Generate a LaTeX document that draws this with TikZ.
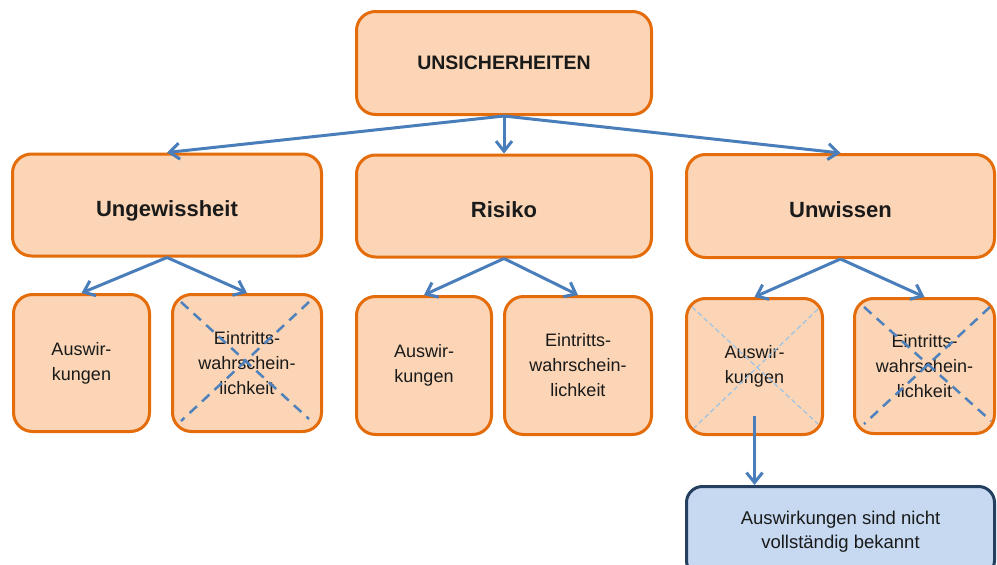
\documentclass[tikz,border=0pt]{standalone}
\usepackage{fontspec}
\setmainfont{Liberation Sans}
\usetikzlibrary{arrows.meta,calc}
\definecolor{boxfill}{HTML}{FBD5B5}
\definecolor{boxline}{HTML}{E46C0A}
\definecolor{arrowblue}{HTML}{4A7EBB}
\definecolor{crossblue}{HTML}{4F81BD}
\definecolor{lightcross}{HTML}{9DC3E6}
\definecolor{notefill}{HTML}{C6D9F1}
\definecolor{noteline}{HTML}{243F60}
\definecolor{txt}{HTML}{1A1A1A}
\tikzset{
  orangebox/.style={draw=boxline, fill=boxfill, line width=3pt, rounded corners=19pt,
    align=center, inner sep=0pt, text=txt},
  bigbox/.style={orangebox, font=\bfseries\fontsize{22}{26}\selectfont,
    text height=22pt, text depth=0pt},
  smallbox/.style={orangebox, font=\fontsize{18}{25}\selectfont},
  notebox/.style={draw=noteline, fill=notefill, line width=3pt, rounded corners=16pt,
    align=center, inner sep=0pt, text=txt, font=\fontsize{18.5}{23.5}\selectfont},
  link/.style={draw=arrowblue, line width=3pt,
    -{Straight Barb[length=10pt,width=16pt]}},
  strike/.style={draw=crossblue, line width=2.5pt, dash pattern=on 10pt off 7pt},
  faintstrike/.style={draw=lightcross, line width=1.2pt, dash pattern=on 5pt off 3pt}
}
\begin{document}
\begin{tikzpicture}[x=1pt,y=-1pt]
\useasboundingbox (0,0) rectangle (997,565);
\clip (0,0) rectangle (997,565);

% top level
\node[orangebox, font=\bfseries\fontsize{19.5}{24}\selectfont,
      minimum width=295pt, minimum height=103pt] (top) at (504,63) {UNSICHERHEITEN};

% second level
\node[bigbox, minimum width=309pt, minimum height=102pt] (ung) at (167,205) {Ungewissheit};
\node[bigbox, minimum width=295pt, minimum height=102pt] (ris) at (504,206) {Risiko};
\node[bigbox, minimum width=308pt, minimum height=103pt] (unw) at (840.5,206) {Unwissen};

% third level
\node[smallbox, minimum width=136pt, minimum height=137pt] (unga) at (81.5,363) {Auswir-\\kungen};
\node[smallbox, minimum width=149pt, minimum height=137pt] (unge) at (247,363) {Eintritts-\\wahrschein-\\lichkeit};
\node[smallbox, minimum width=135pt, minimum height=138pt] (risa) at (424,365.5) {Auswir-\\kungen};
\node[smallbox, minimum width=147pt, minimum height=138pt] (rise) at (578,365.5) {Eintritts-\\wahrschein-\\lichkeit};
\node[smallbox, minimum width=136pt, minimum height=136pt] (unwa) at (754.5,366.5) {Auswir-\\kungen};
\node[smallbox, minimum width=140pt, minimum height=135pt] (unwe) at (924.5,366) {Eintritts-\\wahrschein-\\lichkeit};

% remark box, running past the lower edge
\node[notebox, minimum width=308pt, minimum height=90pt] (note) at (840.5,531.5)
  {Auswirkungen sind nicht\\vollständig bekannt};

% struck-out boxes
\draw[strike] ($(unge.north west)+(10,9)$) -- ($(unge.south east)+(-14,-14)$);
\draw[strike] ($(unge.north east)+(-14,9)$) -- ($(unge.south west)+(10,-12)$);
\draw[faintstrike] ($(unwa.north west)+(7,10)$) -- ($(unwa.south east)+(-6,-12)$);
\draw[faintstrike] ($(unwa.north east)+(-6,12)$) -- ($(unwa.south west)+(9,-8)$);
\draw[strike] ($(unwe.north west)+(11,10)$) -- ($(unwe.south east)+(-5,-14)$);
\draw[strike] ($(unwe.north east)+(-6,10)$) -- ($(unwe.south west)+(11,-11)$);

% connectors
\draw[link] (top.south) -- (ung.north);
\draw[link] (top.south) -- (ris.north);
\draw[link] (top.south) -- (unw.north);
\draw[link] (ung.south) -- (unga.north);
\draw[link] (ung.south) -- (unge.north);
\draw[link] (ris.south) -- (risa.north);
\draw[link] (ris.south) -- (rise.north);
\draw[link] (unw.south) -- (unwa.north);
\draw[link] (unw.south) -- (unwe.north);
\draw[link] ($(unwa.south)+(0,-20)$) -- (unwa.south |- note.north);
\end{tikzpicture}
\end{document}
